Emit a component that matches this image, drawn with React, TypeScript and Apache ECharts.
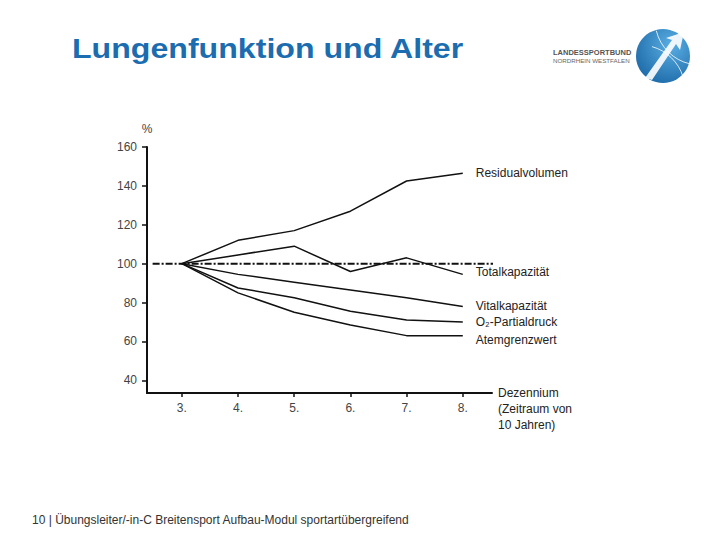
import React, { useEffect, useRef } from "react";
import * as echarts from "echarts";

const decades = [3, 4, 5, 6, 7, 8];
const decadeLabels = ["3.", "4.", "5.", "6.", "7.", "8."];
const yTicks = [40, 60, 80, 100, 120, 140, 160];

const residualvolumen = [100, 112, 117, 127, 142.5, 146.5];
const totalkapazitaet = [100, 104.5, 109, 96, 103, 94.5];
const vitalkapazitaet = [100, 94.5, 90.5, 86.5, 82.5, 78];
const o2Partialdruck = [100, 87.5, 82.5, 75.5, 71, 70];
const atemgrenzwert = [100, 85, 75, 68.5, 63, 63];

// reference line at 100 % (x range in decades)
const referenceX = [2.48, 8.57];
const referenceY = [100, 100];

const seriesDefs = [
  { name: "Residualvolumen", values: residualvolumen, off: [5, 0] },
  { name: "Totalkapazität", values: totalkapazitaet, off: [5, -2] },
  { name: "Vitalkapazität", values: vitalkapazitaet, off: [5, 0] },
  { name: "O₂-Partialdruck", values: o2Partialdruck, off: [5, 0] },
  { name: "Atemgrenzwert", values: atemgrenzwert, off: [5, 4] },
];

const FONT = "Liberation Sans, Arial, sans-serif";

export default function App() {
  const ref = useRef<HTMLDivElement>(null);
  useEffect(() => {
    if (!ref.current) return;
    const chart = echarts.init(ref.current, null, { renderer: "svg" });
    const series: any[] = [
      {
        name: "Referenz",
        type: "line",
        data: referenceX.map((x, i) => [x, referenceY[i]]),
        symbol: "none",
        z: 1,
        lineStyle: { color: "#111", width: 2, type: [7, 2, 2, 2] },
      },
    ];
    seriesDefs.forEach((s) =>
      series.push({
        name: s.name,
        type: "line",
        data: decades.map((d, i) => [d, s.values[i]]),
        symbol: "none",
        z: 2,
        lineStyle: { color: "#111", width: 1.5 },
        endLabel: {
          show: true,
          formatter: s.name,
          color: "#222",
          fontSize: 12,
          fontFamily: FONT,
          offset: s.off,
        },
      })
    );
    chart.setOption({
      animation: false,
      backgroundColor: "#fff",
      textStyle: { fontFamily: FONT },
      grid: { left: 147, right: 228, top: 147, bottom: 147, containLabel: false },
      xAxis: {
        type: "value",
        min: 2.38,
        max: 8.52,
        name: "Dezennium\n(Zeitraum von\n10 Jahren)",
        nameLocation: "end",
        nameGap: 6,
        nameTextStyle: {
          color: "#222",
          fontSize: 12,
          align: "left",
          verticalAlign: "top",
          lineHeight: 16,
          padding: [-8, 0, 0, 0],
        },
        axisLine: { lineStyle: { color: "#111", width: 2 } },
        axisTick: { customValues: decades, length: 4, lineStyle: { color: "#111", width: 1.5 } },
        axisLabel: {
          customValues: decades,
          formatter: (v: number) => decadeLabels[decades.indexOf(Math.round(v))] ?? "",
          color: "#444",
          fontSize: 12,
          margin: 9,
        },
        splitLine: { show: false },
      },
      yAxis: {
        type: "value",
        min: 33.5,
        max: 160,
        name: "%",
        nameLocation: "end",
        nameGap: 12,
        nameTextStyle: { color: "#444", fontSize: 12, align: "center" },
        axisLine: { show: true, lineStyle: { color: "#111", width: 2 } },
        axisTick: { show: true, customValues: yTicks, length: 5, lineStyle: { color: "#111", width: 1.5 } },
        axisLabel: { customValues: yTicks, color: "#444", fontSize: 12, margin: 10 },
        splitLine: { show: false },
      },
      graphic: [
        {
          type: "text",
          x: 72,
          y: 35,
          scaleX: 1.19,
          style: {
            text: "Lungenfunktion und Alter",
            fill: "#1b6db0",
            font: "bold 27px Liberation Sans, Arial, sans-serif",
            verticalAlign: "top",
          },
        },
        {
          type: "text",
          left: 32,
          top: 514,
          style: {
            text: "10 | Übungsleiter/-in-C Breitensport Aufbau-Modul sportartübergreifend",
            fill: "#333",
            font: "12px Liberation Sans, Arial, sans-serif",
          },
        },
        {
          type: "text",
          left: 553,
          top: 48,
          style: { text: "LANDESSPORTBUND", fill: "#555", font: "bold 7.5px Liberation Sans, Arial, sans-serif" },
        },
        {
          type: "text",
          left: 553,
          top: 57,
          style: { text: "NORDRHEIN WESTFALEN", fill: "#666", font: "6.2px Liberation Sans, Arial, sans-serif" },
        },
        {
          type: "circle",
          shape: { cx: 663, cy: 56, r: 27 },
          style: {
            fill: new echarts.graphic.RadialGradient(0.65, 0.3, 0.9, [
              { offset: 0, color: "#5aaee3" },
              { offset: 1, color: "#135f9f" },
            ]),
          },
        },
        {
          type: "arc",
          shape: { cx: 640, cy: 90, r: 45, startAngle: -1.3, endAngle: -0.3 },
          style: { stroke: "#fff", lineWidth: 1, fill: "none", opacity: 0.8 },
        },
        {
          type: "arc",
          shape: { cx: 700, cy: 20, r: 45, startAngle: 1.8, endAngle: 2.9 },
          style: { stroke: "#fff", lineWidth: 1, fill: "none", opacity: 0.8 },
        },
        {
          type: "polygon",
          shape: { points: [[645, 78], [672, 40], [666, 38], [684, 32], [680, 50], [676, 44], [652, 80]] },
          style: { fill: "#fff", opacity: 0.9 },
        },
      ],
      series,
    });
    return () => chart.dispose();
  }, []);
  return (
    <div
      ref={ref}
      style={{ position: "fixed", left: 0, top: 0, width: 720, height: 540, background: "#fff" }}
    />
  );
}
